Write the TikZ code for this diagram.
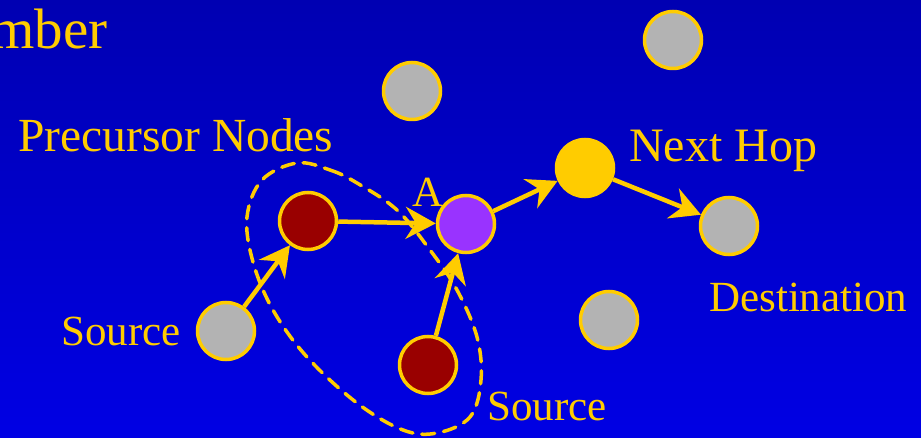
\documentclass[tikz,border=0pt]{standalone}
\usepackage{fontspec}
\setmainfont{Liberation Serif}
\usetikzlibrary{arrows.meta}
\definecolor{gold}{RGB}{255,204,0}
\definecolor{greynode}{RGB}{179,179,179}
\definecolor{darkred}{RGB}{153,0,0}
\definecolor{violet}{RGB}{153,51,255}
\definecolor{bgtop}{RGB}{0,0,178}
\definecolor{bgbot}{RGB}{0,0,228}
\tikzset{
  host/.style={circle, draw=gold, line width=3.5pt, minimum size=57pt, inner sep=0pt},
  idle/.style={host, fill=greynode},
  relay/.style={host, fill=darkred},
  hopto/.style={line width=4.5pt, draw=gold, -{Stealth[length=30pt,width=32pt,inset=10pt]}},
  caption/.style={text=gold, anchor=base west, inner sep=0pt, font=\fontsize{43}{48}\selectfont},
}
\begin{document}
\begin{tikzpicture}[x=1pt,y=-1pt]
  \useasboundingbox (0,0) rectangle (921,438);
  \clip (0,0) rectangle (921,438);
  \shade[top color=bgtop, bottom color=bgbot] (0,0) rectangle (921,438);

  % slide title, running off the left edge
  \node[caption, font=\fontsize{57}{62}\selectfont] (title) at (-10,49) {mber};

  % precursor set outline
  \draw[gold, line width=3.5pt, dash pattern=on 13pt off 9pt, line cap=round]
    plot[smooth cycle, tension=0.6] coordinates {
      (297,163) (330,170) (357,183) (397,210) (430,250) (457,290)
      (477,337) (481,380) (470,417) (437,433) (403,430) (357,403)
      (307,357) (273,310) (253,262) (247,217) (262,180)};

  % hosts
  \node[idle] (g1) at (673,40) {};
  \node[idle] (g2) at (412,91) {};
  \node[idle] (g3) at (609,320) {};
  \node[idle] (src1) at (226,331) {};
  \node[relay] (pre) at (308,221) {};
  \node[relay] (src2) at (428,365) {};
  \node[host, fill=violet] (a) at (466,224) {};
  \node[host, fill=gold] (next) at (585,168) {};
  \node[idle] (dest) at (729,226) {};

  % route
  \draw[hopto] (src1) -- (pre);
  \draw[hopto] (pre) -- (a);
  \draw[hopto] (src2) -- (a);
  \draw[hopto] (a) -- (next);
  \draw[hopto] (next) -- (dest);

  % labels
  \node[caption, font=\fontsize{47.5}{52}\selectfont] (lprec) at (18,152) {Precursor Nodes};
  \node[caption, font=\fontsize{48}{52}\selectfont] (lnext) at (629,162) {Next Hop};
  \node[caption] (la) at (412,207) {A};
  \node[caption] (ls1) at (61,345) {Source};
  \node[caption] (ls2) at (487,420) {Source};
  \node[caption] (ldest) at (709,312) {Destination};
\end{tikzpicture}
\end{document}
